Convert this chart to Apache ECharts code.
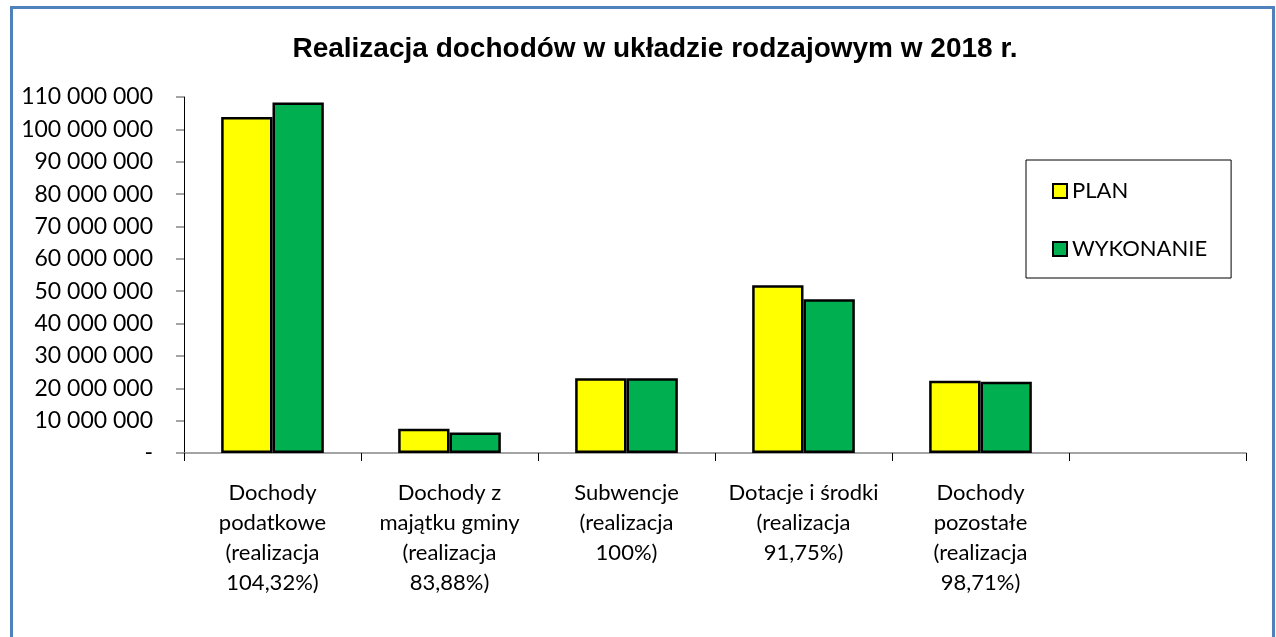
<!DOCTYPE html>
<html>
<head>
    <meta charset="UTF-8">
    <title>Realizacja dochodów</title>
    <script src="https://cdn.jsdelivr.net/npm/echarts@6/dist/echarts.min.js"></script>
    <style>
        html, body { margin: 0; padding: 0; background: #fff; }
    </style>
</head>
<body>
<div id="main" style="width: 1276px;height:637px;"></div>
<script type="text/javascript">
    // kategorie (ostatnia pusta, jak w oryginale)
    var categories = [
        'Dochody\npodatkowe\n(realizacja\n104,32%)',
        'Dochody z\nmajątku gminy\n(realizacja\n83,88%)',
        'Subwencje\n(realizacja\n100%)',
        'Dotacje i środki\n(realizacja\n91,75%)',
        'Dochody\npozostałe\n(realizacja\n98,71%)',
        ''
    ];
    var plan = [103800000, 7500000, 23100000, 51800000, 22300000, null];
    var wykonanie = [108300000, 6300000, 23100000, 47500000, 22000000, null];

    var txtFont = 'Lato';

    function fmt(v) {
        if (v === 0) return '-';
        return String(v).replace(/\B(?=(\d{3})+(?!\d))/g, ' ');
    }

    var chart = echarts.init(document.getElementById('main'));
    chart.setOption({
        animation: false,
        backgroundColor: '#fff',
        title: {
            text: 'Realizacja dochodów w układzie rodzajowym w 2018 r.',
            left: 650,
            textAlign: 'center',
            top: 30,
            textStyle: {
                fontFamily: 'Liberation Sans',
                fontWeight: 'bold',
                fontSize: 28,
                color: '#000'
            }
        },
        graphic: [{
            type: 'rect',
            shape: {x: 11.5, y: 7.5, width: 1262, height: 660},
            style: {fill: 'none', stroke: '#4F81BD', lineWidth: 3},
            silent: true
        }],
        legend: {
            orient: 'vertical',
            left: 1026,
            top: 160,
            padding: [20, 24, 18, 26],
            itemGap: 36,
            itemWidth: 14,
            itemHeight: 14,
            borderColor: '#000',
            borderWidth: 1,
            icon: 'rect',
            textStyle: {fontFamily: txtFont, fontSize: 22, color: '#000'},
            data: ['PLAN', 'WYKONANIE']
        },
        grid: {left: 184, top: 97, right: 30, bottom: 184},
        xAxis: {
            type: 'category',
            data: categories,
            axisLine: {lineStyle: {color: '#868686', width: 1.5}},
            axisTick: {show: true, length: 8, lineStyle: {color: '#000'}},
            axisLabel: {
                interval: 0,
                margin: 25,
                fontFamily: txtFont,
                fontSize: 22,
                lineHeight: 30,
                color: '#000',
                align: 'center'
            }
        },
        yAxis: {
            type: 'value',
            min: 0,
            max: 110000000,
            interval: 10000000,
            splitLine: {show: false},
            axisLine: {show: true, lineStyle: {color: '#000', width: 1}},
            axisTick: {show: true, length: 8, lineStyle: {color: '#868686', width: 1.5}},
            axisLabel: {
                margin: 31,
                fontFamily: txtFont,
                fontSize: 23,
                color: '#000',
                formatter: fmt
            }
        },
        series: [
            {
                name: 'PLAN',
                type: 'bar',
                data: plan,
                barGap: '0%',
                barCategoryGap: '42%',
                itemStyle: {color: '#FFFF00', borderColor: '#000', borderWidth: 2.5}
            },
            {
                name: 'WYKONANIE',
                type: 'bar',
                data: wykonanie,
                itemStyle: {color: '#00B050', borderColor: '#000', borderWidth: 2.5}
            }
        ]
    });
</script>
</body>
</html>
